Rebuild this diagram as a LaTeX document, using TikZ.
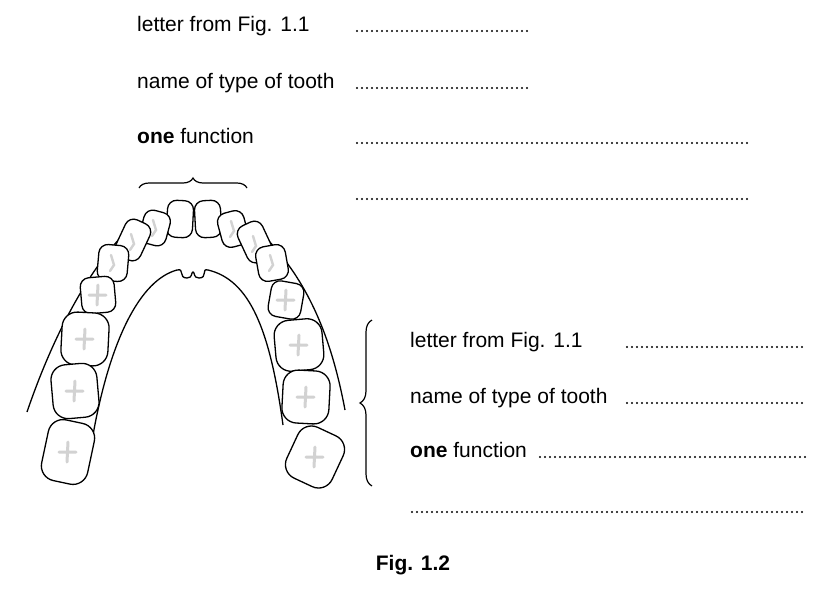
\documentclass[tikz,border=0pt]{standalone}
\usepackage{fontspec}
\setmainfont{Liberation Sans}
\usetikzlibrary{decorations.pathreplacing}
\tikzset{
  label/.style={anchor=base west, inner sep=0pt, font=\fontsize{21}{24}\selectfont},
  leader/.style={line width=2.2pt, line cap=round, dash pattern=on 0pt off 5pt},
  tooth/.style={line width=1.3pt, rounded corners=9pt, fill=white},
  groove/.style={line width=3pt, gray!35, line cap=round},
  gum/.style={line width=1.3pt},
}
\begin{document}
\begin{tikzpicture}[x=1pt,y=-1pt]
    \useasboundingbox (0,0) rectangle (823,590);

    % upper answer lines
    \node[label] (l1) at (137,31) {letter from Fig. 1.1};
    \node[label] (l2) at (137,88) {name of type of tooth};
    \node[label] (l3) at (137,143) {\textbf{one} function};
    \draw[leader] (357,31) -- (528,31);
    \draw[leader] (357,88) -- (528,88);
    \draw[leader] (357,143) -- (750,143);
    \draw[leader] (357,199) -- (750,199);

    % braces
    \draw[line width=1.2pt, decorate, decoration={brace, amplitude=10pt}] (139,188) -- (247,188);
    \draw[line width=1.2pt, decorate, decoration={brace, amplitude=12pt}] (372,486) -- (372,320);

    % lower answer lines
    \node[label] (r1) at (410,347) {letter from Fig. 1.1};
    \node[label] (r2) at (410,403) {name of type of tooth};
    \node[label] (r3) at (410,457) {\textbf{one} function};
    \draw[leader] (627,347) -- (802,347);
    \draw[leader] (627,403) -- (802,403);
    \draw[leader] (540,457) -- (805,457);
    \draw[leader] (412,512) -- (805,512);

    % gums
    \draw[gum] (27,412) .. controls (55,330) and (90,270) .. (122,236);
    \draw[gum] (345,410) .. controls (330,330) and (305,280) .. (268,240);
    \draw[gum] (93,435) .. controls (110,340) and (140,280) .. (177,270);
    \draw[gum] (283,425) .. controls (270,330) and (250,280) .. (208,270);
    \draw[gum] (177,270) .. controls (185,268) and (178,278) .. (187,278)
        .. controls (193,278) and (191,272) .. (193,272)
        .. controls (195,272) and (193,278) .. (199,278)
        .. controls (208,278) and (201,268) .. (208,270);

    % teeth: x/y/width/height/angle
    \foreach \x/\y/\w/\h/\a in {180/219/26/37/-3, 208/219/26/37/3,
        155/228/27/34/-15, 233/229/27/35/15,
        133/240/27/40/-25, 255/242/27/40/25,
        113/263/30/36/-5, 272/263/30/35/10,
        98/295/34/36/5, 286/300/33/36/-10}
      \draw[tooth, rotate around={\a:(\x,\y)}] (\x-\w/2,\y-\h/2) rectangle (\x+\w/2,\y+\h/2);
    \foreach \x/\y/\w/\h/\a in {85/339/47/53/-3, 299/345/48/51/5,
        75/391/46/54/5, 306/397/47/53/-3,
        68/452/47/62/-12, 315/457/50/56/-25}
      \draw[tooth, rounded corners=15pt, rotate around={\a:(\x,\y)}] (\x-\w/2,\y-\h/2) rectangle (\x+\w/2,\y+\h/2);

    % fissures
    \foreach \x/\y in {98/295, 286/300, 85/339, 299/345, 75/391, 306/397, 68/452, 315/457}
      \draw[groove] (\x-9,\y) -- (\x+8,\y) (\x,\y-10) -- (\x-1,\y+10);
    \foreach \x/\y in {113/263, 272/263, 155/228, 233/229, 133/242, 255/244}
      \draw[groove, line width=2.4pt] (\x-2,\y-8) -- (\x+1,\y+2) -- (\x-3,\y+8);

    \node[inner sep=0pt, font=\fontsize{21}{24}\selectfont\bfseries] (fig) at (413,565) {Fig. 1.2};
\end{tikzpicture}
\end{document}
